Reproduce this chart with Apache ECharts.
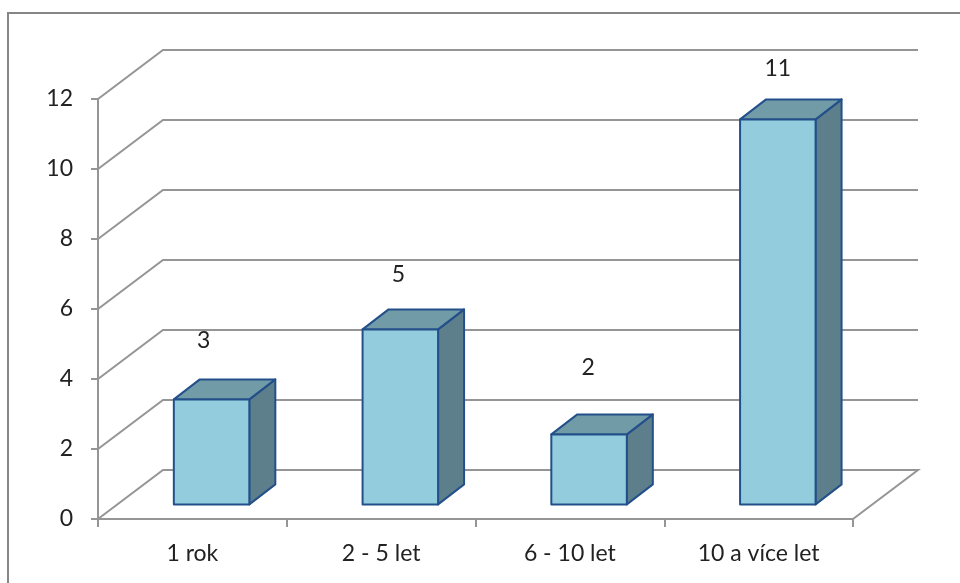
<!DOCTYPE html>
<html>
<head>
<meta charset="utf-8">
<style>html,body{margin:0;padding:0;background:#fff}#chart{width:960px;height:583px}</style>
<script src="https://cdn.jsdelivr.net/npm/echarts@6/dist/echarts.min.js"></script>
</head>
<body>
<div id="chart"></div>
<script>
// Počet respondentů podle délky praxe
const categories = ['1 rok', '2 - 5 let', '6 - 10 let', '10 a více let'];
const counts = [3, 5, 2, 11];
const yTicks = [0, 2, 4, 6, 8, 10, 12];

// Hand-placed value labels: offset from the centre of each bar's top front edge
const labelShift = [[-8, -60], [-2, -56], [-1, -68], [0, -52]];

const FONT = 'Lato, "Open Sans", sans-serif';
const TEXT_COLOR = '#222';
const GRID_COLOR = '#959595';
const WALL = { dx: 65, dy: -49 };   // depth of the chart floor
const BAR = { ratio: 0.4, dx: 26, dy: -20, inX: 19.2, inY: -14.6 };

function renderWall(params, api) {
  const cs = params.coordSys;
  const y = api.coord([0, api.value(1)])[1];
  const pts = [[cs.x, y], [cs.x + WALL.dx, y + WALL.dy], [cs.x + cs.width + WALL.dx, y + WALL.dy]];
  if (api.value(1) === 0) pts.push([cs.x + cs.width, y]);
  return {
    type: 'polyline',
    shape: { points: pts },
    style: { fill: 'none', stroke: GRID_COLOR, lineWidth: 2 }
  };
}

function renderBar(params, api) {
  const idx = api.value(0);
  const val = api.value(1);
  const band = api.size([1, 0])[0];
  const w = band * BAR.ratio;
  const top = api.coord([idx, val]);
  const base = api.coord([idx, 0]);
  const cx = top[0] + BAR.inX;
  const l = cx - w / 2, r = cx + w / 2;
  const t = top[1] + BAR.inY, b = base[1] + BAR.inY;
  const edge = { stroke: '#23508a', lineWidth: 2, lineJoin: 'round' };
  const shift = labelShift[params.dataIndex];
  return {
    type: 'group',
    children: [
      { type: 'polygon',
        shape: { points: [[r, t], [r + BAR.dx, t + BAR.dy], [r + BAR.dx, b + BAR.dy], [r, b]] },
        style: Object.assign({ fill: '#5d7f8c' }, edge) },
      { type: 'polygon',
        shape: { points: [[l, t], [l + BAR.dx, t + BAR.dy], [r + BAR.dx, t + BAR.dy], [r, t]] },
        style: Object.assign({ fill: '#729ba8' }, edge) },
      { type: 'rect',
        shape: { x: l, y: t, width: w, height: b - t },
        style: Object.assign({ fill: '#93cddd' }, edge) },
      { type: 'text',
        style: {
          x: cx + shift[0], y: t + shift[1] + 1, text: String(val),
          fill: TEXT_COLOR, font: '23px ' + FONT, align: 'center', verticalAlign: 'middle'
        } }
    ]
  };
}

const chart = echarts.init(document.getElementById('chart'), null, { renderer: 'canvas' });
chart.setOption({
  animation: false,
  backgroundColor: '#ffffff',
  graphic: [{
    type: 'rect', silent: true, z: -1,
    shape: { x: 8, y: 13, width: 1100, height: 800 },
    style: { fill: 'none', stroke: '#868686', lineWidth: 2 }
  }],
  grid: { left: 98, right: 107, top: 99, bottom: 64 },
  xAxis: {
    type: 'category',
    data: categories,
    axisLine: { lineStyle: { color: GRID_COLOR, width: 2 } },
    axisTick: { show: true, alignWithLabel: false, length: 8, lineStyle: { color: GRID_COLOR, width: 2 } },
    axisLabel: { color: TEXT_COLOR, fontFamily: FONT, fontSize: 23, margin: 23 }
  },
  yAxis: {
    type: 'value',
    min: 0, max: 12, interval: 2,
    axisLine: { show: true, lineStyle: { color: GRID_COLOR, width: 2 } },
    axisTick: { show: true, length: 7, lineStyle: { color: GRID_COLOR, width: 2 } },
    axisLabel: { color: TEXT_COLOR, fontFamily: FONT, fontSize: 23, margin: 25, padding: [3, 0, 0, 0] },
    splitLine: { show: false }
  },
  series: [
    { type: 'custom', name: 'wall', renderItem: renderWall, silent: true, z: 1,
      data: yTicks.map(t => [0, t]), encode: { x: 0, y: 1 } },
    { type: 'custom', name: 'Počet', renderItem: renderBar, z: 2,
      data: counts.map((v, i) => [i, v]), encode: { x: 0, y: 1 } }
  ]
});
</script>
</body>
</html>
